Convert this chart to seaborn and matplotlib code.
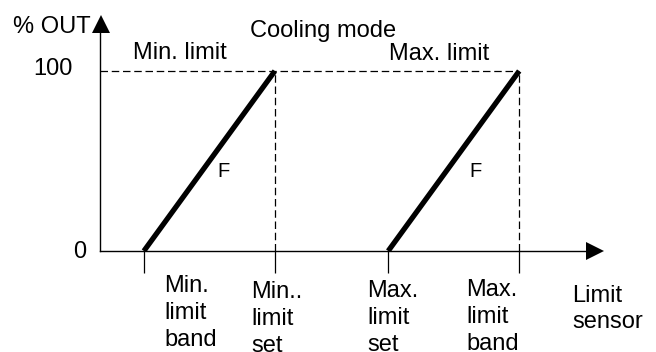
import pandas as pd
import matplotlib.pyplot as plt
import matplotlib.transforms as mtransforms
import seaborn as sns

# sensor positions (arbitrary units) of the four limit points
min_band = 6.7
min_set = 26.7
max_set = 44.0
max_band = 64.0
sensor_end = 74.2
out_top = 121.1

ramp_out = [0, 100]
min_ramp_x = [min_band, min_set]
max_ramp_x = [max_set, max_band]

sensor_ticks = [min_band, min_set, max_set, max_band]
tick_labels = ["Min.\nlimit\nband", "Min..\nlimit\nset", "Max.\nlimit\nset", "Max.\nlimit\nband"]
out_labels = ["0", "100"]

ramps = pd.DataFrame({
    "sensor": min_ramp_x + max_ramp_x,
    "out": ramp_out + ramp_out,
    "limit": ["Min. limit"] * 2 + ["Max. limit"] * 2,
})

sns.set_style("white")
plt.rcParams["font.family"] = ["Liberation Sans", "DejaVu Sans"]

W, H = 656, 352
fig = plt.figure(figsize=(W / 100, H / 100), dpi=100)
ax = fig.add_axes([100 / W, 101 / H, 486 / W, 218 / H])

# the two ramps
sns.lineplot(data=ramps, x="sensor", y="out", units="limit", estimator=None,
             color="black", linewidth=3.8, solid_capstyle="butt", legend=False, ax=ax)

# dashed guide lines
dash = (0, (6, 3))
ax.hlines(100, 0, max_band, colors="black", linewidth=0.9, linestyles=dash)
ax.vlines([min_set, max_band], 0, 100, colors="black", linewidth=0.9, linestyles=dash)

ax.set_xlim(0, sensor_end)
ax.set_ylim(0, out_top)
sns.despine(ax=ax)
for side in ["left", "bottom"]:
    ax.spines[side].set_color("black")
    ax.spines[side].set_linewidth(1.0)

ax.set_xticks(sensor_ticks)
ax.set_xticklabels([])
ax.tick_params(axis="x", direction="out", length=16, width=0.9, color="black", bottom=True)
ax.set_yticks([])
ax.set_xlabel("")
ax.set_ylabel("")

# arrow heads on both axes
right = ax.transAxes + mtransforms.ScaledTranslation(0.09, 0, fig.dpi_scale_trans)
up = ax.transAxes + mtransforms.ScaledTranslation(0.01, 0.09, fig.dpi_scale_trans)
ax.plot([1], [0], marker=">", color="black", markersize=13, mew=0, transform=right, clip_on=False)
ax.plot([0], [1], marker="^", color="black", markersize=13, mew=0, transform=up, clip_on=False)


def put(x, y, s, **kw):
    kw.setdefault("fontsize", 17)
    kw.setdefault("va", "baseline")
    fig.text(x / W, 1 - y / H, s, color="black", **kw)


put(13, 33, "% OUT")
put(250, 37, "Cooling mode")
put(133, 59, "Min. limit")
put(389, 60, "Max. limit")
put(73, 75, out_labels[1], ha="right")
put(86, 258, out_labels[0], ha="right")
put(217, 177, "F", fontsize=14.5)
put(469, 177, "F", fontsize=14.5)

label_pos = [(164, 275), (251, 281), (367, 280), (466, 279)]
for (x, y), lab in zip(label_pos, tick_labels):
    put(x, y, lab, va="top", linespacing=1.3)
put(572, 285, "Limit\nsensor", va="top", linespacing=1.24)

fig.savefig("out.png", dpi=100)
